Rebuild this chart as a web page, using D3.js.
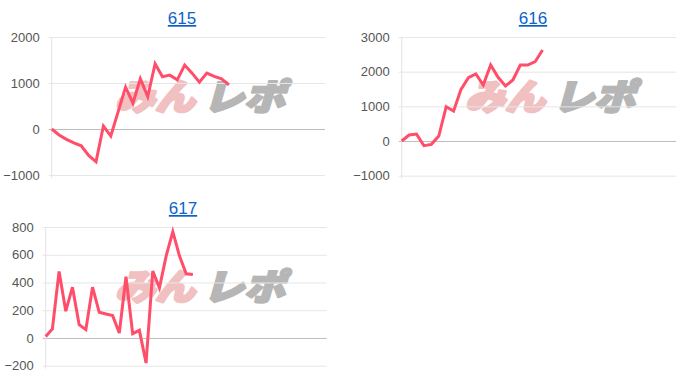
<!DOCTYPE html>
<html>
<head>
<meta charset="utf-8">
<script src="https://cdn.jsdelivr.net/npm/d3@7"></script>
<style>
  body { margin: 0; background: #fff; }
  svg { display: block; }
  .tick text { font-family: "Liberation Sans", Arial, sans-serif; font-size: 13px; fill: #555; }
  .title { font-family: "Liberation Sans", Arial, sans-serif; font-size: 17px; fill: #0b62c9; text-decoration: underline; }
</style>
</head>
<body>
<div id="chart"></div>
<script>
// machine numbers
var titles = ["615", "616", "617"];

// per-game difference values
var values615 = [0, -130, -225, -300, -365, -575, -713, 65, -153, 378, 909, 560, 1091, 705, 1418,
                 1135, 1171, 1069, 1389, 1215, 1018, 1215, 1142, 1091, 960];
var values616 = [0, 173, 200, -135, -96, 144, 990, 865, 1490, 1827, 1933, 1615, 2192, 1837, 1587,
                 1760, 2192, 2192, 2288, 2625];
var values617 = [10, 65, 480, 193, 366, 96, 60, 366, 185, 173, 161, 36, 441, 31, 55, -181, 482,
                 361, 590, 766, 590, 463, 458];

// tick labels
var ticks615 = [-1000, 0, 1000, 2000];
var ticks616 = [-1000, 0, 1000, 2000, 3000];
var ticks617 = [-200, 0, 200, 400, 600, 800];

// slots on the x axis
var slots = [37, 37, 42];

var width = 700, height = 380;

var svg = d3.select("#chart")
  .append("svg")
  .attr("width", width)
  .attr("height", height);

var panels = [
  { title: titles[0], values: values615, ticks: ticks615, slots: slots[0], x0: 51.7, x1: 325, y0: 175, y1: 37, titleX: 182, titleY: 24, markX: 115 },
  { title: titles[1], values: values616, ticks: ticks616, slots: slots[1], x0: 401.7, x1: 676, y0: 175.7, y1: 37, titleX: 533, titleY: 24, markX: 465 },
  { title: titles[2], values: values617, ticks: ticks617, slots: slots[2], x0: 45.7, x1: 326.7, y0: 365.7, y1: 227, titleX: 183, titleY: 214, markX: 115 }
];

function mark(g, x, y, txt, color, len) {
  g.append("text")
    .attr("x", x)
    .attr("y", y)
    .attr("textLength", len)
    .attr("lengthAdjust", "spacingAndGlyphs")
    .attr("font-family", "Noto Sans CJK JP")
    .attr("font-weight", 900)
    .attr("font-style", "italic")
    .attr("font-size", 36)
    .attr("fill", color)
    .attr("stroke", color)
    .attr("stroke-width", 2.5)
    .attr("stroke-linejoin", "round")
    .text(txt);
}

panels.forEach(function(p) {
  var g = svg.append("g");

  var x = d3.scaleLinear().domain([0, p.slots]).range([p.x0, p.x1]);
  var y = d3.scaleLinear().domain(d3.extent(p.ticks)).range([p.y0, p.y1]);

  // watermark
  var markY = p.y1 + 73;
  mark(g, p.markX, markY, "みん", "#f1c0c0", 80);
  mark(g, p.markX + 88, markY, "レポ", "#b6b6b6", 82);

  // grid + labels
  var axis = g.append("g")
    .attr("transform", "translate(" + (p.x0 - 3) + ",0)")
    .call(d3.axisLeft(y).tickValues(p.ticks).tickSize(-(p.x1 - p.x0 + 3)).tickPadding(9).tickFormat(d3.format("d")));
  axis.select(".domain").remove();
  axis.selectAll(".tick line")
    .attr("stroke", function(d) { return d === 0 ? "#bdbdbd" : "#e6e6e6"; });

  // y axis line
  g.append("line")
    .attr("x1", p.x0).attr("x2", p.x0)
    .attr("y1", p.y1).attr("y2", p.y0 + 3)
    .attr("stroke", "#e3e3e3");

  // title
  g.append("text")
    .attr("class", "title")
    .attr("x", p.titleX)
    .attr("y", p.titleY)
    .attr("text-anchor", "middle")
    .text(p.title);

  var line = d3.line()
    .x(function(d, i) { return x(i); })
    .y(function(d) { return y(d); });

  g.append("path")
    .datum(p.values)
    .attr("d", line)
    .attr("fill", "none")
    .attr("stroke", "#ff4d6a")
    .attr("stroke-width", 3)
    .attr("stroke-linejoin", "miter");
});
</script>
</body>
</html>
